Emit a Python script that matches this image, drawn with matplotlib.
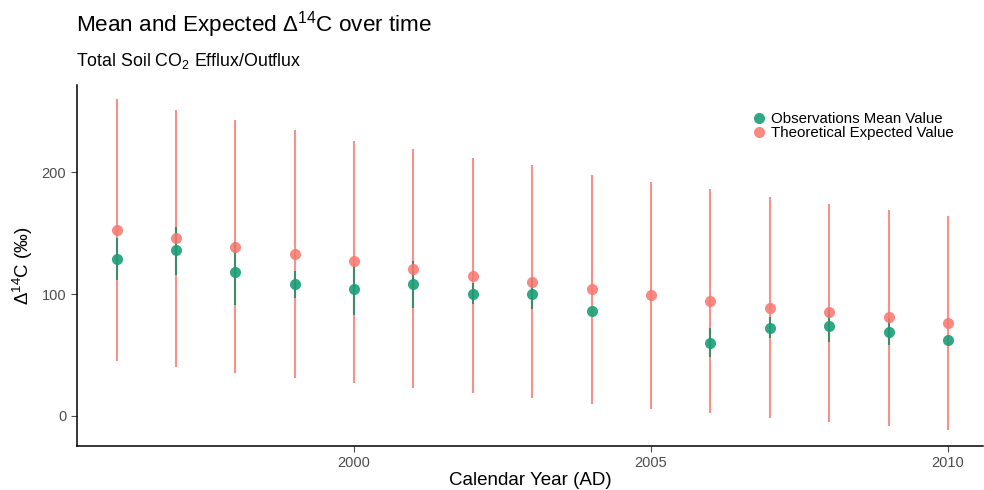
import numpy as np
import matplotlib.pyplot as plt

plt.rcParams['font.family'] = ['Liberation Sans', 'DejaVu Sans']
plt.rcParams['mathtext.fontset'] = 'custom'
plt.rcParams['mathtext.rm'] = 'Liberation Sans'

# data
years = np.arange(1996, 2011)
obs_mean = [129, 136, 118, 108, 104, 108, 100, 100, 86, np.nan, 60, 72.5, 74, 69, 62]
obs_lo = [112, 116, 91, 97, 83, 89, 92, 88, 86, np.nan, 48, 64, 61, 58, 62]
obs_hi = [146, 155, 143, 119, 124, 127, 109, 113, 86, np.nan, 72, 81, 88, 80, 62]
exp_val = [153, 146, 139, 133, 127, 121, 115, 110, 104, 99, 94, 89, 85, 81, 76]
exp_lo = [45, 40, 35, 31, 27, 23, 19, 15, 10, 6, 2, -2, -5, -8, -12]
exp_hi = [260, 251, 243, 235, 226, 219, 212, 206, 198, 192, 186, 180, 174, 169, 164]

green = '#1b9e77'
pink = '#F8766D'

fig = plt.figure(figsize=(9.84, 4.9), dpi=100)
ax = fig.add_axes([0.078, 0.09, 0.921, 0.737])

ax.vlines(years, exp_lo, exp_hi, color=pink, alpha=0.8, lw=1.5, zorder=1)
ax.vlines(years, obs_lo, obs_hi, color='#2a8a68', alpha=0.9, lw=1.5, zorder=2)
ax.plot(years, exp_val, 'o', color=pink, alpha=0.85, ms=8, mec='none', zorder=3,
        label='Theoretical Expected Value')
ax.plot(years, obs_mean, 'o', color=green, alpha=0.9, ms=8, mec='none', zorder=4,
        label='Observations Mean Value')

ax.set_xlim(1995.33, 2010.59)
ax.set_ylim(-24.7, 272)
ax.set_xticks([2000, 2005, 2010])
ax.set_yticks([0, 100, 200])
ax.tick_params(colors='#4d4d4d', labelsize=10.5, length=4, width=0.8)
for s in ['top', 'right']:
    ax.spines[s].set_visible(False)
for s in ['left', 'bottom']:
    ax.spines[s].set_linewidth(1.1)

ax.set_xlabel('Calendar Year (AD)', fontsize=13.5, labelpad=1)
ax.set_ylabel(r'$\Delta^{14}$C (‰)', fontsize=13.5, labelpad=5)

h, l = ax.get_legend_handles_labels()
ax.legend(h[::-1], l[::-1], loc='upper right', bbox_to_anchor=(0.968, 0.924),
          frameon=False, fontsize=10.8, handlelength=0.8, handletextpad=0.4,
          labelspacing=0.0, borderaxespad=0, borderpad=0)

fig.text(0.077, 0.935, r'Mean and Expected $\Delta^{14}$C over time', fontsize=16.2)
fig.text(0.077, 0.865, r'Total Soil CO$_2$ Efflux/Outflux', fontsize=12.8)

fig.savefig('out.png', dpi=100)
